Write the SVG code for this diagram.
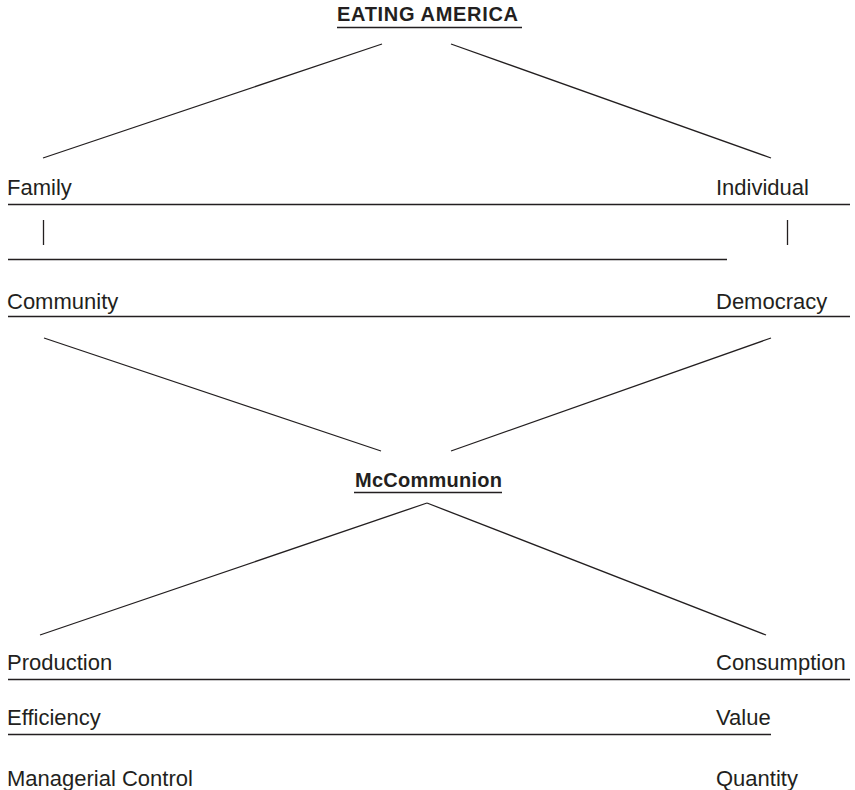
<svg xmlns="http://www.w3.org/2000/svg" width="855" height="790" viewBox="0 0 855 790">
<style>
.t{font-family:"Liberation Sans",Arial,Helvetica,sans-serif;font-size:22px;fill:#231f20}
.b{font-family:"Liberation Sans",Arial,Helvetica,sans-serif;font-size:20px;font-weight:bold;fill:#231f20}
line{stroke:#231f20;stroke-width:1.3;fill:none}
</style>
<rect width="855" height="790" fill="#fff"/>
<g id="title"><text class="b" x="337" y="21" textLength="181" lengthAdjust="spacing">EATING AMERICA</text><line x1="337" y1="27.5" x2="522" y2="27.5"/></g>
<g id="family"><text class="t" x="7" y="195">Family</text></g>
<g id="individual"><text class="t" x="716" y="195">Individual</text></g>
<g id="community"><text class="t" x="7" y="309">Community</text></g>
<g id="democracy"><text class="t" x="716" y="309">Democracy</text></g>
<g id="mccommunion"><text class="b" x="355" y="487" textLength="147" lengthAdjust="spacing">McCommunion</text><line x1="354" y1="492.5" x2="502" y2="492.5"/></g>
<g id="production"><text class="t" x="7" y="670">Production</text></g>
<g id="consumption"><text class="t" x="716" y="670">Consumption</text></g>
<g id="efficiency"><text class="t" x="7" y="725">Efficiency</text></g>
<g id="value"><text class="t" x="716" y="725">Value</text></g>
<g id="managerial"><text class="t" x="7" y="786">Managerial Control</text></g>
<g id="quantity"><text class="t" x="716" y="786">Quantity</text></g>
<g id="connectors">
<line x1="382" y1="44" x2="43" y2="158"/>
<line x1="451" y1="44" x2="771" y2="158"/>
<line x1="8" y1="204.5" x2="850" y2="204.5"/>
<line x1="43.5" y1="220" x2="43.5" y2="245"/>
<line x1="787.5" y1="220" x2="787.5" y2="245"/>
<line x1="8" y1="259.5" x2="727" y2="259.5"/>
<line x1="8" y1="316.5" x2="850" y2="316.5"/>
<line x1="44" y1="338" x2="381" y2="451"/>
<line x1="771" y1="338" x2="451" y2="451"/>
<line x1="427" y1="503" x2="40" y2="635"/>
<line x1="427" y1="503" x2="766" y2="635"/>
<line x1="8" y1="679.5" x2="850" y2="679.5"/>
<line x1="8" y1="734.5" x2="771" y2="734.5"/>
</g>
</svg>
